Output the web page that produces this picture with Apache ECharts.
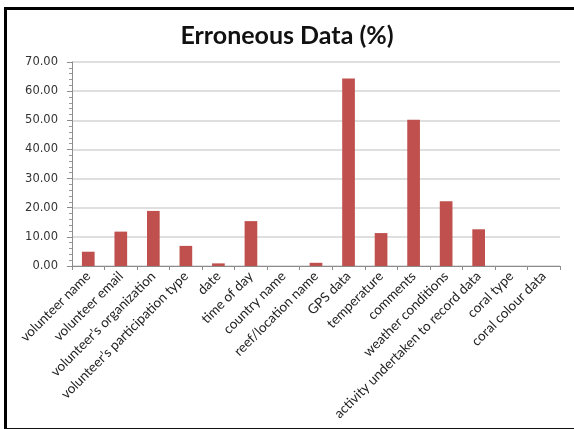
<!DOCTYPE html>
<html>
<head>
<meta charset="utf-8">
<script src="https://cdn.jsdelivr.net/npm/echarts@6/dist/echarts.min.js"></script>
<style>
  html, body { margin: 0; padding: 0; background: #fff; overflow: hidden; width: 574px; height: 429px; }
  #frame { position: absolute; left: 4px; top: 7px; width: 567px; height: 418px; box-sizing: content-box;
           border-left: 3px solid #000; border-top: 3px solid #000; border-bottom: 2px solid #111; }
  #chart { position: absolute; left: 0; top: 0; width: 574px; height: 429px; }
</style>
</head>
<body>
<div id="frame"></div>
<div id="chart"></div>
<script>
// Survey fields and the share of records with erroneous entries (%)
const fields = [
  "volunteer name", "volunteer email", "volunteer\u2019s organization",
  "volunteer\u2019s participation type", "date", "time of day", "country name",
  "reef/location name", "GPS data", "temperature", "comments",
  "weather conditions", "activity undertaken to record data", "coral type",
  "coral colour data"
];
const erroneousPct = [4.9, 11.8, 18.9, 6.9, 0.9, 15.4, 0, 1.1, 64.3, 11.3, 50.2, 22.2, 12.6, 0, 0];
const yTicks = { min: 0, max: 70, step: 10 };

const chart = echarts.init(document.getElementById('chart'), null, { renderer: 'canvas' });
chart.setOption({
  backgroundColor: 'transparent',
  animation: false,
  title: {
    text: 'Erroneous Data (%)',
    left: 'center', top: 18,
    textStyle: { fontFamily: 'Lato', fontWeight: 'bold', fontSize: 25, color: '#111' }
  },
  grid: { left: 72, right: 14, top: 62, bottom: 163, containLabel: false },
  xAxis: {
    type: 'category',
    data: fields,
    axisLine: { lineStyle: { color: '#8c8c8c', width: 1 } },
    axisTick: { show: true, alignWithLabel: false, length: 4, lineStyle: { color: '#8c8c8c' } },
    axisLabel: {
      interval: 0, rotate: 45, margin: 8,
      fontFamily: 'Lato', fontSize: 13.5, color: '#222'
    }
  },
  yAxis: {
    type: 'value',
    min: yTicks.min, max: yTicks.max, interval: yTicks.step,
    axisLine: { show: true, lineStyle: { color: '#8c8c8c', width: 1 } },
    axisTick: { show: true, length: 5, lineStyle: { color: '#8c8c8c' } },
    minorTick: { show: true, splitNumber: 5, length: 3, lineStyle: { color: '#9a9a9a' } },
    splitLine: { lineStyle: { color: '#d4d4d4', width: 1.5 } },
    axisLabel: {
      formatter: v => v.toFixed(2), margin: 14,
      fontFamily: 'DejaVu Sans', fontSize: 11.5, color: '#333'
    }
  },
  series: [{
    type: 'bar',
    data: erroneousPct,
    barWidth: '39%',
    itemStyle: { color: '#C0504D' }
  }]
});
</script>
</body>
</html>
